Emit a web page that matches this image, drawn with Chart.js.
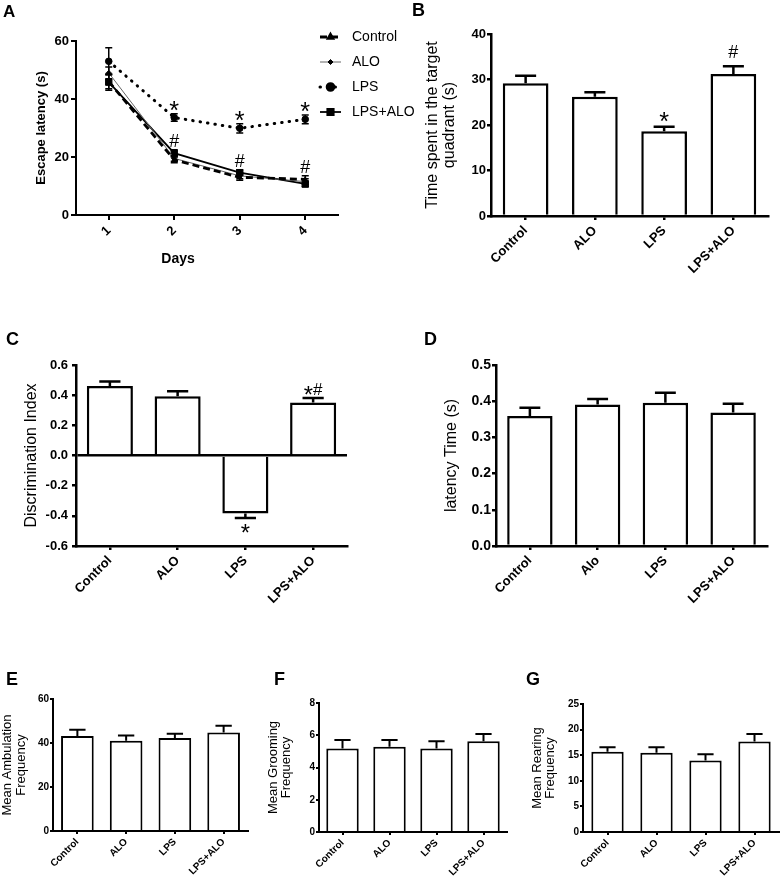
<!DOCTYPE html>
<html>
<head>
<meta charset="utf-8">
<script src="https://cdn.jsdelivr.net/npm/chart.js@4.4.1/dist/chart.umd.min.js"></script>
<style>
  body { margin: 0; background: #fff; }
  #page { position: relative; width: 780px; height: 881px; overflow: hidden; background: #fff;
          font-family: "Liberation Sans", Arial, sans-serif; color: #000; }
  canvas { position: absolute; }
  .tag { position: absolute; font-weight: bold; font-size: 18px; line-height: 18px; }
  .axis-title { position: absolute; font-weight: bold; font-size: 14px; line-height: 16px; text-align: center; }
</style>
</head>
<body>
<div id="page">
  <canvas id="chartA" width="420" height="280" style="left:0;top:0"></canvas>
  <canvas id="chartB" width="380" height="300" style="left:400px;top:0"></canvas>
  <canvas id="chartC" width="400" height="320" style="left:0;top:300px"></canvas>
  <canvas id="chartD" width="380" height="320" style="left:400px;top:300px"></canvas>
  <canvas id="chartE" width="260" height="241" style="left:0;top:640px"></canvas>
  <canvas id="chartF" width="260" height="241" style="left:260px;top:640px"></canvas>
  <canvas id="chartG" width="260" height="241" style="left:520px;top:640px"></canvas>

  <div class="tag" style="left:3px;top:3px;font-size:17px">A</div>
  <div class="tag" style="left:412px;top:1px">B</div>
  <div class="tag" style="left:6px;top:330px">C</div>
  <div class="tag" style="left:424px;top:330px">D</div>
  <div class="tag" style="left:6px;top:670px">E</div>
  <div class="tag" style="left:274px;top:670px">F</div>
  <div class="tag" style="left:526px;top:670px">G</div>
  <div class="axis-title" style="left:150px;top:250px;width:56px">Days</div>
</div>

<script>
const FONT = '"Liberation Sans", Arial, sans-serif';
Chart.defaults.font.family = FONT;
Chart.defaults.color = '#000';

// panel A: escape latency over days
const days = ['1', '2', '3', '4'];
const controlLatency = [46, 19, 13, 12.3];
const controlLatencyErr = [2.5, 1, 1, 1.2];
const aloLatency = [49, 19.5, 13.5, 11.5];
const aloLatencyErr = [2, 1, 1, 1];
const lpsLatency = [53, 33.6, 29.9, 33];
const lpsLatencyErr = [4.7, 1.3, 1.6, 1.5];
const lpsAloLatency = [45.8, 21.3, 14.6, 10.7];
const lpsAloLatencyErr = [2.8, 1.2, 1.0, 1.0];
const latencyStars = ['', '*', '*', '*'];
const latencyHash = ['', '#', '#', '#'];
const latencyTicks = [0, 20, 40, 60];

// bar panels
const groups = ['Control', 'ALO', 'LPS', 'LPS+ALO'];
const groupsD = ['Control', 'Alo', 'LPS', 'LPS+ALO'];

const quadrantTime = [29.2, 26.2, 18.6, 31.2];
const quadrantErr = [1.6, 1.0, 1.0, 1.7];
const quadrantMarks = ['', '', '*', '#'];
const quadrantTicks = [0, 10, 20, 30, 40];

const discrimIndex = [0.46, 0.393, -0.385, 0.351];
const discrimErr = [0.03, 0.033, 0.029, 0.031];
const discrimMarks = ['', '', '*', '*#'];
const discrimTicks = [-0.6, -0.4, -0.2, 0, 0.2, 0.4, 0.6];

const latencyTime = [0.359, 0.391, 0.396, 0.369];
const latencyTimeErr = [0.023, 0.015, 0.027, 0.024];
const latencyTimeTicks = [0, 0.1, 0.2, 0.3, 0.4, 0.5];

const ambulation = [43.2, 41, 42.3, 44.8];
const ambulationErr = [2.8, 2.4, 1.9, 3.0];
const ambulationTicks = [0, 20, 40, 60];

const grooming = [5.18, 5.28, 5.18, 5.63];
const groomingErr = [0.52, 0.42, 0.45, 0.44];
const groomingTicks = [0, 2, 4, 6, 8];

const rearing = [15.65, 15.46, 13.97, 17.67];
const rearingErr = [0.91, 1.1, 1.23, 1.48];
const rearingTicks = [0, 5, 10, 15, 20, 25];

// rough glyph extents in em, relative to the baseline
const GLYPH = { '*': { top: 0.73, bottom: 0.44, scale: 1.4 }, '#': { top: 0.72, bottom: -0.01, scale: 1 } };

// significance marks: stacked on a common centre, just past the error bar end
function drawMark(ctx, text, x, edge, dir, size, gap) {
  ctx.save();
  ctx.fillStyle = '#000';
  ctx.textAlign = 'left';
  ctx.textBaseline = 'alphabetic';
  const parts = text.split('').map(ch => {
    const g = GLYPH[ch] || { top: 0.72, bottom: 0, scale: 1 };
    const s = size * g.scale;
    ctx.font = s + 'px ' + FONT;
    return { ch, g, s, w: ctx.measureText(ch).width };
  });
  const hMax = Math.max(...parts.map(p => (p.g.top - p.g.bottom) * p.s));
  const centre = dir > 0 ? edge - gap - hMax / 2 : edge + gap + hMax / 2;
  let cx = x - parts.reduce((a, p) => a + p.w, 0) / 2;
  parts.forEach(p => {
    ctx.font = p.s + 'px ' + FONT;
    ctx.fillText(p.ch, cx, centre + (p.g.top + p.g.bottom) / 2 * p.s);
    cx += p.w;
  });
  ctx.restore();
}

const barExtras = {
  id: 'barExtras',
  afterDatasetsDraw(chart) {
    const ctx = chart.ctx;
    const ys = chart.scales.y;
    const ds = chart.data.datasets[0];
    const o = chart.options.plugins.barExtras;
    ctx.save();
    ctx.strokeStyle = '#000';
    ctx.lineWidth = o.lineWidth;
    chart.getDatasetMeta(0).data.forEach((bar, i) => {
      const v = ds.data[i];
      const dir = v < 0 ? -1 : 1;
      const y0 = ys.getPixelForValue(v);
      const y1 = ys.getPixelForValue(v + dir * ds.errors[i]);
      const half = bar.width * o.cap / 2;
      ctx.beginPath();
      ctx.moveTo(bar.x, y0);
      ctx.lineTo(bar.x, y1);
      ctx.moveTo(bar.x - half, y1);
      ctx.lineTo(bar.x + half, y1);
      ctx.stroke();
      const m = ds.marks[i];
      if (m) drawMark(ctx, m, bar.x, y1, dir, o.markSize, dir > 0 ? o.markGap : o.markGapBelow);
    });
    ctx.restore();
  }
};

function drawBars(id, spec) {
  const cv = document.getElementById(id);
  const W = cv.width, H = cv.height;
  const a = spec.area;
  return new Chart(cv, {
    type: 'bar',
    data: {
      labels: spec.labels,
      datasets: [{
        data: spec.values,
        errors: spec.errors,
        marks: spec.marks || [],
        backgroundColor: '#fff',
        borderColor: '#000',
        borderWidth: spec.line,
        borderSkipped: 'start',
        barPercentage: spec.barPct,
        categoryPercentage: 1
      }]
    },
    options: {
      responsive: false,
      animation: false,
      layout: { padding: { left: 0, top: a.top, right: W - a.right, bottom: 0 } },
      plugins: {
        legend: { display: false },
        tooltip: { enabled: false },
        barExtras: { cap: spec.cap, lineWidth: spec.line, markSize: spec.markSize || 18,
                     markGap: spec.markGap || 6, markGapBelow: spec.markGapBelow || 6 }
      },
      scales: {
        x: {
          offset: true,
          grid: { offset: false, drawOnChartArea: false, color: '#000', lineWidth: spec.axis, tickLength: spec.tick },
          border: { display: true, color: '#000', width: spec.axis },
          ticks: { color: '#000', autoSkip: false, minRotation: 45, maxRotation: 45, padding: spec.xPad,
                   font: { size: spec.catSize, weight: 'bold' } },
          afterFit: s => { s.height = H - a.bottom; }
        },
        y: {
          min: spec.ticks[0],
          max: spec.ticks[spec.ticks.length - 1],
          afterBuildTicks: s => { s.ticks = spec.ticks.map(v => ({ value: v })); },
          grid: {
            drawOnChartArea: !!spec.zeroLine,
            color: c => (spec.zeroLine && c.tick && c.tick.value === 0) ? '#000' : 'rgba(0,0,0,0)',
            tickColor: '#000', lineWidth: spec.axis, tickLength: spec.tick
          },
          border: { display: true, color: '#000', width: spec.axis },
          ticks: { color: '#000', padding: spec.yPad || 1, font: { size: spec.tickSize, weight: 'bold' },
                   callback: v => v.toFixed(spec.digits) },
          title: { display: true, text: spec.title, color: '#000',
                   font: { size: spec.titleSize, lineHeight: spec.titleLH },
                   padding: { top: spec.titlePad, bottom: 0 } },
          afterFit: s => { s.width = a.left; }
        }
      }
    },
    plugins: [barExtras]
  });
}

// ---------- panel A ----------
const lineExtras = {
  id: 'lineExtras',
  afterDatasetsDraw(chart) {
    const ctx = chart.ctx;
    const y = chart.scales.y;
    ctx.save();
    ctx.strokeStyle = '#000';
    ctx.lineWidth = 1.5;
    chart.data.datasets.forEach((ds, di) => {
      chart.getDatasetMeta(di).data.forEach((pt, i) => {
        const hi = y.getPixelForValue(ds.data[i] + ds.errors[i]);
        const lo = y.getPixelForValue(ds.data[i] - ds.errors[i]);
        ctx.beginPath();
        ctx.moveTo(pt.x, hi); ctx.lineTo(pt.x, lo);
        ctx.moveTo(pt.x - 3.5, hi); ctx.lineTo(pt.x + 3.5, hi);
        ctx.moveTo(pt.x - 3.5, lo); ctx.lineTo(pt.x + 3.5, lo);
        ctx.stroke();
      });
    });
    ctx.restore();

    const xs = chart.getDatasetMeta(0).data.map(p => p.x);
    days.forEach((d, i) => {
      if (latencyStars[i]) {
        drawMark(ctx, latencyStars[i], xs[i], y.getPixelForValue(lpsLatency[i] + lpsLatencyErr[i]), 1, 18, 6);
      }
      if (latencyHash[i]) {
        const top = Math.max(controlLatency[i] + controlLatencyErr[i],
                             aloLatency[i] + aloLatencyErr[i],
                             lpsAloLatency[i] + lpsAloLatencyErr[i]);
        drawMark(ctx, latencyHash[i], xs[i], y.getPixelForValue(top), 1, 18, 3);
      }
    });
  },
  afterDraw(chart) {
    // legend, drawn by hand so it can sit over the plot's right edge
    const ctx = chart.ctx;
    const rows = [37, 62, 87, 112];
    chart.data.datasets.forEach((ds, i) => {
      const yy = rows[i];
      ctx.save();
      ctx.strokeStyle = ds.borderColor;
      ctx.lineWidth = ds.borderWidth;
      ctx.lineCap = ds.borderCapStyle || 'butt';
      ctx.setLineDash(ds.borderDash || []);
      ctx.beginPath();
      ctx.moveTo(320, yy);
      ctx.lineTo(341, yy);
      ctx.stroke();
      ctx.setLineDash([]);
      ctx.fillStyle = '#000';
      ctx.strokeStyle = '#000';
      Chart.helpers.drawPoint(ctx, { pointStyle: ds.pointStyle, radius: ds.pointRadius, rotation: 0, borderWidth: 1 }, 330.5, yy);
      ctx.font = '14px ' + FONT;
      ctx.textBaseline = 'middle';
      ctx.textAlign = 'left';
      ctx.fillText(ds.label, 352, yy);
      ctx.restore();
    });
  }
};

(function () {
  const cv = document.getElementById('chartA');
  const W = cv.width, H = cv.height;
  const area = { left: 76, top: 41, right: 338, bottom: 215 };
  const pointCommon = { pointBackgroundColor: '#000', pointBorderColor: '#000', pointBorderWidth: 1, tension: 0, fill: false };
  new Chart(cv, {
    type: 'line',
    data: {
      labels: days,
      datasets: [
        Object.assign({ label: 'Control', data: controlLatency, errors: controlLatencyErr,
          borderColor: '#000', borderWidth: 2.8, borderDash: [7, 4],
          pointStyle: 'triangle', pointRadius: 2.6 }, pointCommon),
        Object.assign({ label: 'ALO', data: aloLatency, errors: aloLatencyErr,
          borderColor: '#666', borderWidth: 1,
          pointStyle: 'rectRot', pointRadius: 2.5 }, pointCommon),
        Object.assign({ label: 'LPS', data: lpsLatency, errors: lpsLatencyErr,
          borderColor: '#000', borderWidth: 3, borderDash: [0.5, 7], borderCapStyle: 'round',
          pointStyle: 'circle', pointRadius: 3.3 }, pointCommon),
        Object.assign({ label: 'LPS+ALO', data: lpsAloLatency, errors: lpsAloLatencyErr,
          borderColor: '#000', borderWidth: 1.8,
          pointStyle: 'rect', pointRadius: 4.5 }, pointCommon)
      ]
    },
    options: {
      responsive: false,
      animation: false,
      layout: { padding: { left: 0, top: area.top, right: W - area.right, bottom: 0 } },
      plugins: { legend: { display: false }, tooltip: { enabled: false } },
      scales: {
        x: {
          offset: true,
          grid: { offset: false, drawOnChartArea: false, color: '#000', lineWidth: 2, tickLength: 5 },
          border: { display: true, color: '#000', width: 2 },
          ticks: { color: '#000', minRotation: 45, maxRotation: 45, padding: 3, font: { size: 13, weight: 'bold' } },
          afterFit: s => { s.height = H - area.bottom; }
        },
        y: {
          min: 0,
          max: 60,
          afterBuildTicks: s => { s.ticks = latencyTicks.map(v => ({ value: v })); },
          grid: { drawOnChartArea: false, color: '#000', lineWidth: 2, tickLength: 5 },
          border: { display: true, color: '#000', width: 2 },
          ticks: { color: '#000', padding: 2, font: { size: 13, weight: 'bold' } },
          title: { display: true, text: 'Escape latency (s)', color: '#000',
                   font: { size: 13, weight: 'bold', lineHeight: 1.2 }, padding: { top: 34, bottom: 0 } },
          afterFit: s => { s.width = area.left; }
        }
      }
    },
    plugins: [lineExtras]
  });
})();

// ---------- panels B-G ----------
drawBars('chartB', {
  labels: groups, values: quadrantTime, errors: quadrantErr, marks: quadrantMarks, ticks: quadrantTicks, digits: 0,
  area: { left: 91, top: 34, right: 368, bottom: 216 },
  title: ['Time spent in the target', 'quadrant (s)'], titleSize: 16, titleLH: 1.07, titlePad: 24,
  tickSize: 13, catSize: 13, xPad: 3, line: 2.5, axis: 2.5, tick: 4, barPct: 0.66, cap: 0.46,
  markSize: 18, markGap: 8
});

drawBars('chartC', {
  labels: groups, values: discrimIndex, errors: discrimErr, marks: discrimMarks, ticks: discrimTicks, digits: 1,
  area: { left: 76, top: 65, right: 347, bottom: 246 }, zeroLine: true,
  title: 'Discrimination Index', titleSize: 16, titleLH: 1.2, titlePad: 22,
  tickSize: 13, catSize: 13, xPad: 3, yPad: 4, line: 2.5, axis: 2.5, tick: 4, barPct: 0.68, cap: 0.46,
  markSize: 17, markGap: 3, markGapBelow: 6
});

drawBars('chartD', {
  labels: groupsD, values: latencyTime, errors: latencyTimeErr, ticks: latencyTimeTicks, digits: 1,
  area: { left: 96, top: 65, right: 367, bottom: 246 },
  title: 'latency Time (s)', titleSize: 16, titleLH: 1.2, titlePad: 42,
  tickSize: 14, catSize: 13, xPad: 3, line: 2.5, axis: 2.5, tick: 4, barPct: 0.67, cap: 0.46
});

drawBars('chartE', {
  labels: groups, values: ambulation, errors: ambulationErr, ticks: ambulationTicks, digits: 0,
  area: { left: 53, top: 59, right: 248, bottom: 191 },
  title: ['Mean Ambulation', 'Frequency'], titleSize: 13, titleLH: 1.04, titlePad: 1,
  tickSize: 10, catSize: 10, xPad: 2, line: 2, axis: 2, tick: 3, barPct: 0.67, cap: 0.5
});

drawBars('chartF', {
  labels: groups, values: grooming, errors: groomingErr, ticks: groomingTicks, digits: 0,
  area: { left: 59, top: 63, right: 247, bottom: 192 },
  title: ['Mean Grooming', 'Frequency'], titleSize: 13, titleLH: 1.0, titlePad: 6.5,
  tickSize: 10, catSize: 10, xPad: 2, line: 2, axis: 2, tick: 3, barPct: 0.69, cap: 0.5
});

drawBars('chartG', {
  labels: groups, values: rearing, errors: rearingErr, ticks: rearingTicks, digits: 0,
  area: { left: 63, top: 64, right: 259, bottom: 192 },
  title: ['Mean Rearing', 'Frequency'], titleSize: 13, titleLH: 1.07, titlePad: 10,
  tickSize: 10, catSize: 10, xPad: 2, line: 2, axis: 2, tick: 3, barPct: 0.66, cap: 0.5
});
</script>
</body>
</html>
